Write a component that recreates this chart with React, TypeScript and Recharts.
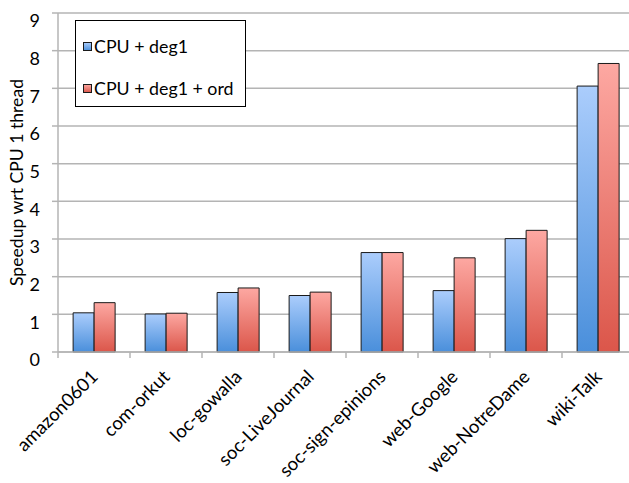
import React from "react";
import { BarChart, Bar, XAxis, YAxis, CartesianGrid } from "recharts";

const graphs = [
  "amazon0601",
  "com-orkut",
  "loc-gowalla",
  "soc-LiveJournal",
  "soc-sign-epinions",
  "web-Google",
  "web-NotreDame",
  "wiki-Talk",
];
const cpuDeg1 = [1.04, 1.01, 1.58, 1.5, 2.64, 1.63, 3.01, 7.06];
const cpuDeg1Ord = [1.31, 1.03, 1.7, 1.59, 2.64, 2.5, 3.23, 7.66];
const yTicks = [0, 1, 2, 3, 4, 5, 6, 7, 8, 9];
const seriesNames = ["CPU + deg1", "CPU + deg1 + ord"];

const data = graphs.map((g, i) => ({
  name: g,
  deg1: cpuDeg1[i],
  deg1ord: cpuDeg1Ord[i],
}));

const FONT = "Lato, 'Open Sans', sans-serif";
const AXIS_GRAY = "#b4b4b4";

// Category labels are slanted at 45°, with tick marks on the band boundaries.
const CategoryTick = (props: any) => {
  const { x, y, payload, index, width, visibleTicksCount } = props;
  const band = width / visibleTicksCount;
  const left = x - band / 2;
  const isLast = index === visibleTicksCount - 1;
  const tx = x + 5;
  const ty = y + 26;
  return (
    <g>
      <line x1={left} y1={y} x2={left} y2={y + 6} stroke={AXIS_GRAY} strokeWidth={1.5} />
      {isLast && (
        <line x1={left + band} y1={y} x2={left + band} y2={y + 6} stroke={AXIS_GRAY} strokeWidth={1.5} />
      )}
      <text
        x={tx}
        y={ty}
        transform={`rotate(-45, ${tx}, ${ty})`}
        textAnchor="end"
        fontFamily={FONT}
        fontSize={18.5}
        fill="#000"
      >
        {payload.value}
      </text>
    </g>
  );
};

const LegendBox = () => (
  <div
    style={{
      position: "absolute",
      left: 75,
      top: 20,
      border: "1px solid #000",
      background: "#fff",
      width: 171,
      height: 87,
      boxSizing: "border-box",
      fontFamily: FONT,
      fontSize: 17.8,
      color: "#000",
    }}
  >
    {seriesNames.map((n, i) => (
      <div
        key={n}
        style={{
          position: "absolute",
          left: 7,
          top: 15 + i * 42,
          display: "flex",
          alignItems: "center",
          whiteSpace: "nowrap",
          lineHeight: "20px",
        }}
      >
        <svg width={9} height={9} style={{ marginRight: 2 }}>
          <rect
            x={0.5}
            y={0.5}
            width={8}
            height={8}
            fill={i === 0 ? "url(#gradBlue)" : "url(#gradRed)"}
            stroke="#1a1a1a"
            strokeWidth={1}
          />
        </svg>
        <span>{n}</span>
      </div>
    ))}
  </div>
);

export default function App() {
  return (
    <div
      style={{
        position: "fixed",
        left: 0,
        top: 0,
        width: 629,
        height: 483,
        overflow: "hidden",
        background: "#fff",
      }}
    >
      <svg width={0} height={0} style={{ position: "absolute" }}>
        <defs>
          <linearGradient id="gradBlue" x1="0" y1="0" x2="0" y2="1">
            <stop offset="0%" stopColor="#abcdfc" />
            <stop offset="100%" stopColor="#4a8fdb" />
          </linearGradient>
          <linearGradient id="gradRed" x1="0" y1="0" x2="0" y2="1">
            <stop offset="0%" stopColor="#fda8a2" />
            <stop offset="100%" stopColor="#db564a" />
          </linearGradient>
        </defs>
      </svg>
      <BarChart
        width={640}
        height={483}
        data={data}
        margin={{ top: 13, right: 6, bottom: 0, left: 0 }}
        barCategoryGap="21%"
        barGap={0}
      >
        <CartesianGrid vertical={false} stroke={AXIS_GRAY} strokeWidth={1.5} />
        <YAxis
          width={58}
          domain={[0, 9]}
          ticks={yTicks}
          interval={0}
          axisLine={{ stroke: AXIS_GRAY, strokeWidth: 1.5 }}
          tickLine={{ stroke: AXIS_GRAY, strokeWidth: 1.5 }}
          tickSize={6}
          tickMargin={12}
          tick={{ fill: "#000", fontSize: 18, fontFamily: FONT, dy: 8 }}
          label={{
            value: "Speedup wrt CPU 1 thread",
            angle: -90,
            position: "insideLeft",
            offset: 17,
            style: { textAnchor: "middle", fill: "#000", fontSize: 17.6, fontFamily: FONT },
          }}
        />
        <XAxis
          dataKey="name"
          height={131}
          interval={0}
          axisLine={{ stroke: AXIS_GRAY, strokeWidth: 1.5 }}
          tickLine={false}
          tickSize={0}
          tickMargin={0}
          tick={<CategoryTick />}
        />
        <Bar
          dataKey="deg1"
          name={seriesNames[0]}
          fill="url(#gradBlue)"
          stroke="#1a1a1a"
          strokeWidth={1}
          isAnimationActive={false}
        />
        <Bar
          dataKey="deg1ord"
          name={seriesNames[1]}
          fill="url(#gradRed)"
          stroke="#1a1a1a"
          strokeWidth={1}
          isAnimationActive={false}
        />
      </BarChart>
      <LegendBox />
    </div>
  );
}
